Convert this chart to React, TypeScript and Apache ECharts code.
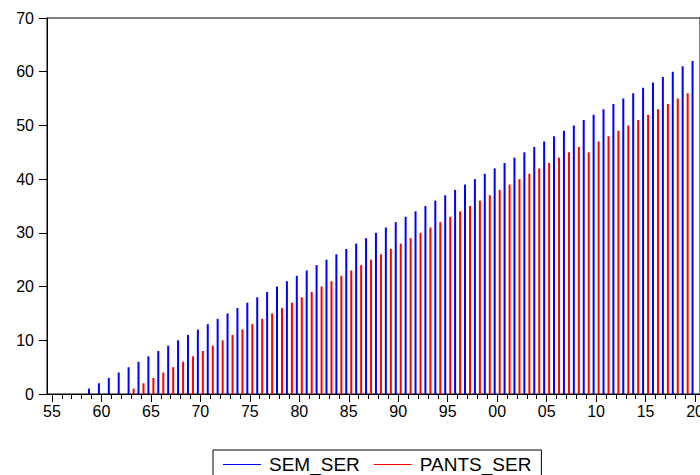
import React, { useEffect, useRef } from "react";
import * as echarts from "echarts";

const years: number[] = [
  1955, 1956, 1957, 1958, 1959, 1960, 1961, 1962, 1963, 1964, 1965, 1966, 1967, 1968, 1969,
  1970, 1971, 1972, 1973, 1974, 1975, 1976, 1977, 1978, 1979, 1980, 1981, 1982, 1983, 1984,
  1985, 1986, 1987, 1988, 1989, 1990, 1991, 1992, 1993, 1994, 1995, 1996, 1997, 1998, 1999,
  2000, 2001, 2002, 2003, 2004, 2005, 2006, 2007, 2008, 2009, 2010, 2011, 2012, 2013, 2014,
  2015, 2016, 2017, 2018, 2019, 2020,
];

const semSer: (number | null)[] = [
  null, null, null, null, 1, 2, 3, 4, 5, 6, 7, 8, 9, 10, 11,
  12, 13, 14, 15, 16, 17, 18, 19, 20, 21, 22, 23, 24, 25, 26,
  27, 28, 29, 30, 31, 32, 33, 34, 35, 36, 37, 38, 39, 40, 41,
  42, 43, 44, 45, 46, 47, 48, 49, 50, 51, 52, 53, 54, 55, 56,
  57, 58, 59, 60, 61, 62,
];

const pantsSer: (number | null)[] = [
  null, null, null, null, null, null, null, null, 1, 2, 3, 4, 5, 6, 7,
  8, 9, 10, 11, 12, 13, 14, 15, 16, 17, 18, 19, 20, 21, 22,
  23, 24, 25, 26, 27, 28, 29, 30, 31, 32, 33, 34, 35, 36, 37,
  38, 39, 40, 41, 42, 43, 44, 45, 46, 45, 47, 48, 49, 50, 51,
  52, 53, 54, 55, 56, null,
];

const yTicks = { min: 0, max: 70, interval: 10 };
const labelEvery = 5;

const FONT = "'Liberation Sans', Arial, sans-serif";

export default function App() {
  const ref = useRef<HTMLDivElement>(null);

  useEffect(() => {
    if (!ref.current) return;
    const chart = echarts.init(ref.current, undefined, { renderer: "svg" });
    const cats = years.map((y) => String(y));
    chart.setOption({
      animation: false,
      backgroundColor: "#fff",
      grid: {
        left: 47,
        width: 653,
        top: 18,
        bottom: 81,
        outerBoundsMode: "none",
        containLabel: false,
        show: true,
        borderColor: "#000",
        borderWidth: 1,
        backgroundColor: "transparent",
      },
      legend: {
        left: 213,
        top: 450,
        orient: "horizontal",
        borderColor: "#000",
        borderWidth: 1,
        padding: [5, 10, 20, 10],
        itemWidth: 38,
        itemHeight: 1,
        itemGap: 14,
        icon: "rect",
        textStyle: { fontFamily: FONT, fontSize: 19, color: "#000", padding: [0, 0, 0, 3] },
        data: [
          { name: "SEM_SER", itemStyle: { color: "#0000ff" } },
          { name: "PANTS_SER", itemStyle: { color: "#ff0000" } },
        ],
      },
      xAxis: [
        {
          type: "category",
          data: cats,
          boundaryGap: true,
          axisLine: { show: true, lineStyle: { color: "#000", width: 1 } },
          axisTick: {
            show: true,
            interval: 0,
            alignWithLabel: true,
            length: 5,
            lineStyle: { color: "#000" },
          },
          axisLabel: {
            interval: (i: number) => i % labelEvery === 0,
            formatter: (v: string) => v.slice(2),
            fontFamily: FONT,
            fontSize: 16,
            color: "#000",
            margin: 9,
            hideOverlap: false,
          },
          splitLine: { show: false },
        },
        {
          type: "category",
          data: cats,
          position: "bottom",
          boundaryGap: true,
          axisLine: { show: false },
          axisTick: {
            show: true,
            interval: (i: number) => i % labelEvery === 0,
            alignWithLabel: true,
            length: 8,
            lineStyle: { color: "#000" },
          },
          axisLabel: { show: false },
          splitLine: { show: false },
        },
      ],
      yAxis: {
        type: "value",
        min: yTicks.min,
        max: yTicks.max,
        interval: yTicks.interval,
        axisLine: { show: true, lineStyle: { color: "#000", width: 1 } },
        axisTick: { show: true, length: 8, lineStyle: { color: "#000" } },
        axisLabel: { fontFamily: FONT, fontSize: 16, color: "#000", margin: 13 },
        splitLine: { show: false },
      },
      series: [
        {
          name: "SEM_SER",
          type: "bar",
          xAxisIndex: 0,
          data: semSer,
          barWidth: 2,
          barGap: "150%",
          itemStyle: { color: "#0000ff" },
        },
        {
          name: "PANTS_SER",
          type: "bar",
          xAxisIndex: 0,
          data: pantsSer,
          barWidth: 2,
          barGap: "150%",
          itemStyle: { color: "#ff0000" },
        },
      ],
    });
    return () => chart.dispose();
  }, []);

  return (
    <div
      ref={ref}
      style={{ position: "fixed", left: 0, top: 0, width: 700, height: 475, background: "#fff" }}
    />
  );
}
